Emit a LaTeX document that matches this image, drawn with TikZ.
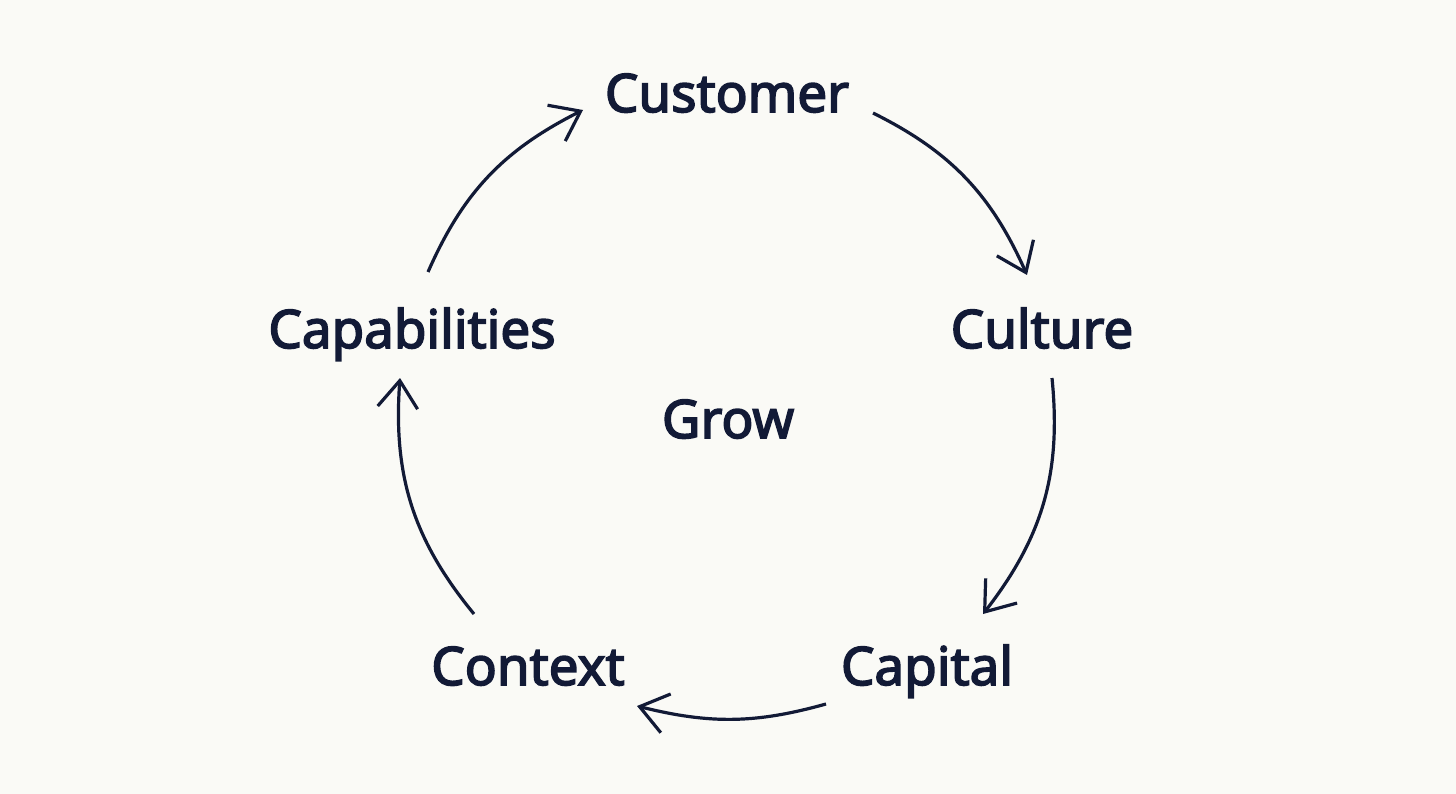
\documentclass[tikz,border=0pt]{standalone}
\usepackage{fontspec}
\setmainfont{Noto Sans}[FakeBold=3]
\usetikzlibrary{arrows.meta,bending}
\definecolor{ink}{HTML}{121A36}
\definecolor{paper}{HTML}{FAFAF6}
\begin{document}
\begin{tikzpicture}[x=1pt,y=-1pt,
  lbl/.style={text=ink,font=\fontsize{53}{60}\selectfont,inner sep=0pt,anchor=base},
  cyc/.style={draw=ink,line width=3.2pt,-{Straight Barb[length=27pt,width=40pt,line width=3.2pt]}}]
\fill[paper] (0,0) rectangle (1456,794);
\useasboundingbox (0,0) rectangle (1456,794);
\node[lbl] (cust) at (727,112) {Customer};
\node[lbl] (capab) at (412,348) {Capabilities};
\node[lbl] (cult) at (1042,348) {Culture};
\node[lbl] (grow) at (728,438) {Grow};
\node[lbl] (cont) at (528,685) {Context};
\node[lbl] (capi) at (927,685) {Capital};
\coordinate (a1) at (428,272); \coordinate (b1) at (583,110);
\coordinate (a2) at (873,113); \coordinate (b2) at (1027,275);
\coordinate (a3) at (1052,378); \coordinate (b3) at (983,614);
\coordinate (a4) at (826,704); \coordinate (b4) at (637,706);
\coordinate (a5) at (474,614); \coordinate (b5) at (400,378);
\draw[cyc] (a1) to[bend left=20] (b1);
\draw[cyc] (a2) to[bend left=20] (b2);
\draw[cyc] (a3) to[bend left=22] (b3);
\draw[cyc] (a4) to[bend left=15] (b4);
\draw[cyc] (a5) to[bend left=22] (b5);
\end{tikzpicture}
\end{document}
